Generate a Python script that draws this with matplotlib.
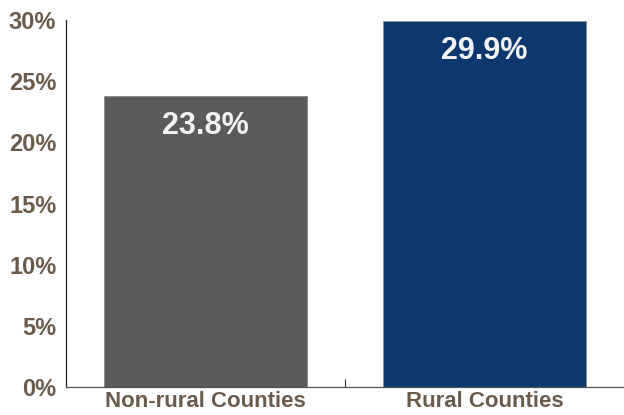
import matplotlib
matplotlib.use("Agg")
import matplotlib.pyplot as plt
from matplotlib import font_manager

categories = ["Non-rural Counties", "Rural Counties"]
values = [23.8, 29.9]
value_labels = ["23.8%", "29.9%"]
yticks = [0, 5, 10, 15, 20, 25, 30]
ytick_labels = ["0%", "5%", "10%", "15%", "20%", "25%", "30%"]
colors = ["#5b5b5b", "#0d386e"]

names = {f.name for f in font_manager.fontManager.ttflist}
fam = "Liberation Sans Narrow" if "Liberation Sans Narrow" in names else "Liberation Sans"
plt.rcParams['font.family'] = [fam, "DejaVu Sans"]

fig = plt.figure(figsize=(6.24, 4.15), dpi=100)
ax = fig.add_axes([66/624, 28/415, 1 - 66/624, (387-20)/415])
x = list(range(len(categories)))
ax.bar(x, values, width=0.725, color=colors, edgecolor="#8a8a8a", linewidth=0.6, zorder=2)
for xi, v, lab in zip(x, values, value_labels):
    ax.text(xi, v - 2.45, lab, ha="center", va="center", color="#f2f2f2",
            fontsize=22, fontweight="bold")
ax.set_xlim(-0.5, 1.5)
ax.set_ylim(0, 30)
ax.set_yticks(yticks)
ax.set_yticklabels(ytick_labels)
ax.set_xticks(x)
ax.set_xticklabels(categories)
ax.set_xticks([0.5], minor=True)
ax.tick_params(axis="x", which="major", length=0, pad=3, labelsize=16, labelcolor="#6b5b4b")
ax.tick_params(axis="x", which="minor", length=6, direction="in", color="#333333", width=0.8)
ax.tick_params(axis="y", length=0, pad=7, labelsize=17, labelcolor="#6b5b4b")
for lab in ax.get_xticklabels() + ax.get_yticklabels():
    lab.set_fontweight("bold")
ax.spines["top"].set_visible(False)
ax.spines["right"].set_visible(False)
ax.spines["left"].set_color("#222222")
ax.spines["bottom"].set_color("#555555")
ax.spines["left"].set_linewidth(0.9)
ax.spines["bottom"].set_linewidth(0.9)
fig.savefig("out.png", dpi=100)
